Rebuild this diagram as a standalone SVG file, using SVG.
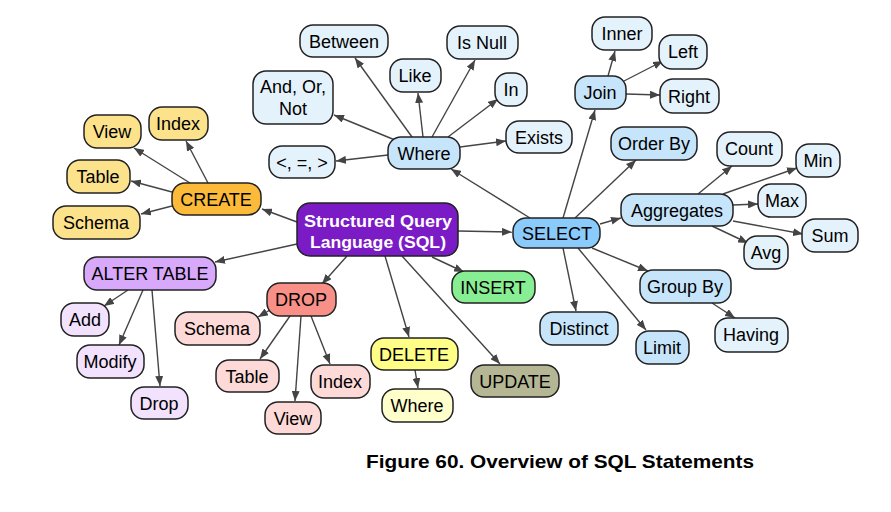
<svg xmlns="http://www.w3.org/2000/svg" width="891" height="512" viewBox="0 0 891 512">
<defs>
<marker id="ah" viewBox="0 0 10 8" refX="10" refY="4" markerWidth="10" markerHeight="8" markerUnits="userSpaceOnUse" orient="auto">
<path d="M0,0 L10,4 L0,8 z" fill="#444"/>
</marker>
</defs>
<style>
rect{stroke:#222;stroke-width:1.5}
text{font-family:"Liberation Sans",Arial,sans-serif;font-size:18px;fill:#000;text-anchor:middle}
.root{fill:#7A1BC6}
.rt{fill:#fff;font-weight:bold;font-size:17px}
.sel{fill:#8ACBFB}
.mid{fill:#C6E5FB}
.lt{fill:#E4F2FC}
.ins{fill:#88EE94}
.upd{fill:#B5B794}
.del{fill:#FFFF88}
.dell{fill:#FFFFCC}
.drop{fill:#F99088}
.dropl{fill:#FDDAD8}
.alt{fill:#D8A8FA}
.altl{fill:#F2E2FE}
.cre{fill:#FBBA3A}
.crel{fill:#FDE28C}
.edges line{stroke:#444;stroke-width:1.4;marker-end:url(#ah)}
.cap{font-weight:bold;font-size:19px;text-anchor:start}
</style>
<g class="edges" id="connectors">
<line x1="297" y1="222" x2="262" y2="209"/>
<line x1="297" y1="244" x2="215" y2="262"/>
<line x1="347" y1="256" x2="322" y2="284"/>
<line x1="432" y1="257" x2="464" y2="272"/>
<line x1="385" y1="256" x2="409" y2="337"/>
<line x1="402" y1="256" x2="500" y2="364"/>
<line x1="458" y1="231" x2="512" y2="232"/>
<line x1="530" y1="218" x2="451" y2="169"/>
<line x1="563" y1="218" x2="595" y2="110"/>
<line x1="575" y1="218" x2="636" y2="160"/>
<line x1="600" y1="224" x2="621" y2="218"/>
<line x1="592" y1="248" x2="648" y2="271"/>
<line x1="578" y1="248" x2="646" y2="330"/>
<line x1="563" y1="248" x2="576" y2="311"/>
<line x1="388" y1="155" x2="336" y2="161"/>
<line x1="395" y1="140" x2="334" y2="115"/>
<line x1="412" y1="137" x2="355" y2="58"/>
<line x1="423" y1="137" x2="418" y2="93"/>
<line x1="432" y1="137" x2="475" y2="60"/>
<line x1="448" y1="137" x2="498" y2="99"/>
<line x1="460" y1="147" x2="506" y2="141"/>
<line x1="608" y1="76" x2="615" y2="51"/>
<line x1="624" y1="81" x2="663" y2="61"/>
<line x1="626" y1="94" x2="660" y2="95"/>
<line x1="698" y1="194" x2="732" y2="166"/>
<line x1="723" y1="194" x2="797" y2="168"/>
<line x1="733" y1="205" x2="758" y2="204"/>
<line x1="733" y1="221" x2="803" y2="234"/>
<line x1="712" y1="226" x2="748" y2="243"/>
<line x1="712" y1="303" x2="735" y2="318"/>
<line x1="190" y1="183" x2="134" y2="148"/>
<line x1="208" y1="183" x2="186" y2="141"/>
<line x1="172" y1="192" x2="131" y2="181"/>
<line x1="172" y1="206" x2="141" y2="214"/>
<line x1="128" y1="290" x2="104" y2="306"/>
<line x1="143" y1="290" x2="119" y2="345"/>
<line x1="152" y1="290" x2="160" y2="386"/>
<line x1="270" y1="310" x2="258" y2="317"/>
<line x1="290" y1="316" x2="260" y2="359"/>
<line x1="301" y1="316" x2="295" y2="401"/>
<line x1="311" y1="316" x2="330" y2="364"/>
<line x1="415" y1="370" x2="418" y2="388"/>
</g>
<g id="n-root"><rect class="root" x="297" y="203" width="161" height="53" rx="13"/><text class="rt" x="378" y="227" textLength="148" lengthAdjust="spacingAndGlyphs">Structured Query</text><text class="rt" x="378" y="248" textLength="136" lengthAdjust="spacingAndGlyphs">Language (SQL)</text></g>
<g id="n-select"><rect class="sel" x="513" y="218" width="87" height="30" rx="13"/><text x="557" y="239.5">SELECT</text></g>
<g id="n-where"><rect class="mid" x="388" y="137" width="72" height="32" rx="13"/><text x="424" y="159.5">Where</text></g>
<g id="n-cmp"><rect class="lt" x="269" y="146" width="66" height="32" rx="13"/><text x="302" y="168.5">&lt;, =, &gt;</text></g>
<g id="n-andornot"><rect class="lt" x="253" y="71" width="80" height="53" rx="13"/><text x="293" y="93">And, Or,</text><text x="293" y="115">Not</text></g>
<g id="n-between"><rect class="lt" x="300" y="25" width="88" height="32" rx="13"/><text x="344" y="47.5">Between</text></g>
<g id="n-like"><rect class="lt" x="390" y="59" width="51" height="33" rx="13"/><text x="415" y="82">Like</text></g>
<g id="n-isnull"><rect class="lt" x="447" y="26" width="71" height="33" rx="13"/><text x="482" y="49">Is Null</text></g>
<g id="n-in"><rect class="lt" x="495" y="73" width="32" height="33" rx="13"/><text x="511" y="96">In</text></g>
<g id="n-exists"><rect class="lt" x="506" y="121" width="66" height="32" rx="13"/><text x="539" y="143.5">Exists</text></g>
<g id="n-join"><rect class="mid" x="575" y="76" width="51" height="33" rx="13"/><text x="600" y="99">Join</text></g>
<g id="n-inner"><rect class="lt" x="592" y="17" width="60" height="33" rx="13"/><text x="622" y="40">Inner</text></g>
<g id="n-left"><rect class="lt" x="659" y="35" width="48" height="34" rx="13"/><text x="683" y="58">Left</text></g>
<g id="n-right"><rect class="lt" x="660" y="79" width="59" height="34" rx="13"/><text x="689" y="102.5">Right</text></g>
<g id="n-orderby"><rect class="mid" x="611" y="127" width="86" height="33" rx="13"/><text x="654" y="150">Order By</text></g>
<g id="n-agg"><rect class="mid" x="621" y="194" width="112" height="32" rx="13"/><text x="677" y="216.5">Aggregates</text></g>
<g id="n-count"><rect class="lt" x="717" y="132" width="65" height="34" rx="13"/><text x="749" y="155">Count</text></g>
<g id="n-min"><rect class="lt" x="796" y="144" width="44" height="33" rx="13"/><text x="818" y="167">Min</text></g>
<g id="n-max"><rect class="lt" x="758" y="184" width="48" height="33" rx="13"/><text x="782" y="207">Max</text></g>
<g id="n-sum"><rect class="lt" x="802" y="219" width="56" height="33" rx="13"/><text x="830" y="242">Sum</text></g>
<g id="n-avg"><rect class="lt" x="744" y="236" width="44" height="33" rx="13"/><text x="766" y="259">Avg</text></g>
<g id="n-groupby"><rect class="mid" x="640" y="270" width="91" height="33" rx="13"/><text x="685" y="293">Group By</text></g>
<g id="n-having"><rect class="lt" x="715" y="318" width="73" height="34" rx="13"/><text x="751" y="341">Having</text></g>
<g id="n-limit"><rect class="mid" x="636" y="331" width="53" height="33" rx="13"/><text x="662" y="354">Limit</text></g>
<g id="n-distinct"><rect class="mid" x="540" y="312" width="78" height="33" rx="13"/><text x="579" y="335">Distinct</text></g>
<g id="n-insert"><rect class="ins" x="452" y="271" width="83" height="32" rx="13"/><text x="493" y="293.5">INSERT</text></g>
<g id="n-update"><rect class="upd" x="471" y="365" width="88" height="32" rx="13"/><text x="515" y="387.5">UPDATE</text></g>
<g id="n-delete"><rect class="del" x="371" y="338" width="87" height="32" rx="13"/><text x="414" y="360.5">DELETE</text></g>
<g id="n-delwhere"><rect class="dell" x="382" y="389" width="71" height="33" rx="13"/><text x="417" y="412">Where</text></g>
<g id="n-drop"><rect class="drop" x="267" y="283" width="69" height="33" rx="13"/><text x="301" y="306">DROP</text></g>
<g id="n-dropschema"><rect class="dropl" x="175" y="312" width="85" height="33" rx="13"/><text x="217" y="335">Schema</text></g>
<g id="n-droptable"><rect class="dropl" x="216" y="360" width="63" height="32" rx="13"/><text x="247" y="382.5">Table</text></g>
<g id="n-dropview"><rect class="dropl" x="265" y="402" width="56" height="32" rx="13"/><text x="293" y="424.5">View</text></g>
<g id="n-dropindex"><rect class="dropl" x="311" y="365" width="59" height="33" rx="13"/><text x="340" y="388">Index</text></g>
<g id="n-alter"><rect class="alt" x="84" y="257" width="132" height="33" rx="13"/><text x="150" y="280">ALTER TABLE</text></g>
<g id="n-add"><rect class="altl" x="61" y="303" width="48" height="33" rx="13"/><text x="85" y="326">Add</text></g>
<g id="n-modify"><rect class="altl" x="77" y="345" width="67" height="33" rx="13"/><text x="110" y="368">Modify</text></g>
<g id="n-altdrop"><rect class="altl" x="131" y="387" width="57" height="32" rx="13"/><text x="159" y="409.5">Drop</text></g>
<g id="n-create"><rect class="cre" x="172" y="183" width="89" height="32" rx="13"/><text x="216" y="205.5">CREATE</text></g>
<g id="n-crview"><rect class="crel" x="84" y="115" width="57" height="33" rx="13"/><text x="112" y="138">View</text></g>
<g id="n-crindex"><rect class="crel" x="149" y="107" width="59" height="33" rx="13"/><text x="178" y="130">Index</text></g>
<g id="n-crtable"><rect class="crel" x="67" y="160" width="63" height="33" rx="13"/><text x="98" y="183">Table</text></g>
<g id="n-crschema"><rect class="crel" x="53" y="206" width="87" height="33" rx="13"/><text x="96" y="229">Schema</text></g>
<text class="cap" x="366" y="468" textLength="388" lengthAdjust="spacingAndGlyphs">Figure 60. Overview of SQL Statements</text>
</svg>
